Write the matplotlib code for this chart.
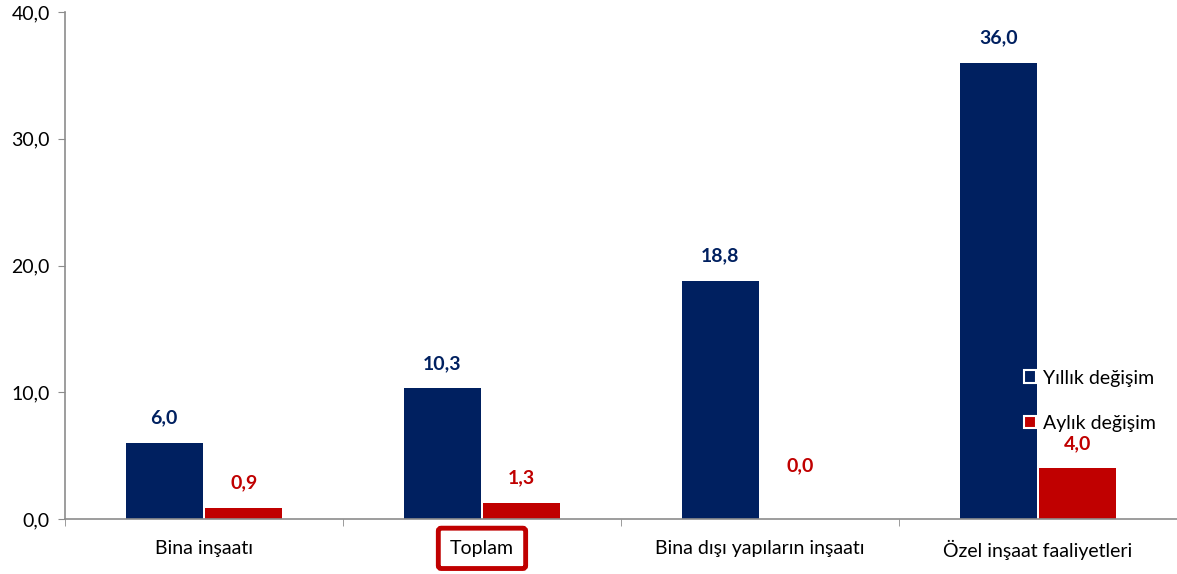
import matplotlib
matplotlib.use("Agg")
import matplotlib.pyplot as plt
import numpy as np

categories = ["Bina inşaatı", "Toplam", "Bina dışı yapıların inşaatı", "Özel inşaat faaliyetleri"]
yillik = [6.0, 10.3, 18.8, 36.0]
aylik = [0.9, 1.3, 0.0, 4.0]
series_names = ["Yıllık değişim", "Aylık değişim"]
yticks = [0, 10, 20, 30, 40]

BLUE = "#002060"
RED = "#C00000"
GRAY = "#8C8C8C"
FS = 14

plt.rcParams["font.family"] = ["Lato", "DejaVu Sans"]

fig = plt.figure(figsize=(11.77, 5.74), dpi=100)
ax = fig.add_axes([0.0552, 0.0958, 0.9448, 0.8832])

x = np.arange(len(categories))
w = 0.277
off = 0.143
b1 = ax.bar(x - off, yillik, w, color=BLUE, label=series_names[0])
b2 = ax.bar(x + off, aylik, w, color=RED, label=series_names[1])

for bars, vals, col in ((b1, yillik, BLUE), (b2, aylik, RED)):
    for rect, v in zip(bars, vals):
        dy = 18 if v != 0 else 38
        ax.annotate(f"{v:.1f}".replace(".", ","),
                    (rect.get_x() + rect.get_width() / 2, v),
                    xytext=(0, dy), textcoords="offset points",
                    ha="center", va="center", fontsize=FS,
                    fontweight="bold", color=col)

ax.set_xlim(-0.5, len(categories) - 0.5)
ax.set_ylim(0, 40)
ax.set_yticks(yticks)
ax.set_yticklabels([f"{t:.1f}".replace(".", ",") for t in yticks], fontsize=FS)
ax.set_xticks(x)
ax.set_xticklabels(categories, fontsize=FS)
ax.set_xticks(np.arange(-0.5, len(categories) + 0.5, 1), minor=True)
ax.tick_params(axis="x", which="major", length=0, pad=15)
ax.tick_params(axis="x", which="minor", length=5, color=GRAY, direction="out")
ax.tick_params(axis="y", length=5, color=GRAY, pad=6)

for s in ("top", "right"):
    ax.spines[s].set_visible(False)
ax.spines["left"].set_color(GRAY)
ax.spines["bottom"].set_color(GRAY)
ax.spines["left"].set_linewidth(1.2)
ax.spines["bottom"].set_linewidth(1.2)

# Highlight "Toplam"
lbl = ax.get_xticklabels()[1]
lbl.set_bbox(dict(boxstyle="round,pad=0.6,rounding_size=0.15", facecolor="white",
                  edgecolor=RED, linewidth=3.5))

leg = ax.legend(loc="upper left", bbox_to_anchor=(0.855, 0.31), frameon=False,
                fontsize=FS, handlelength=0.65, handleheight=0.65, handletextpad=0.35,
                labelspacing=1.45, borderaxespad=0)
for h in leg.legend_handles:
    h.set_edgecolor("white")
    h.set_linewidth(1.5)

fig.savefig("out.png", dpi=100)
